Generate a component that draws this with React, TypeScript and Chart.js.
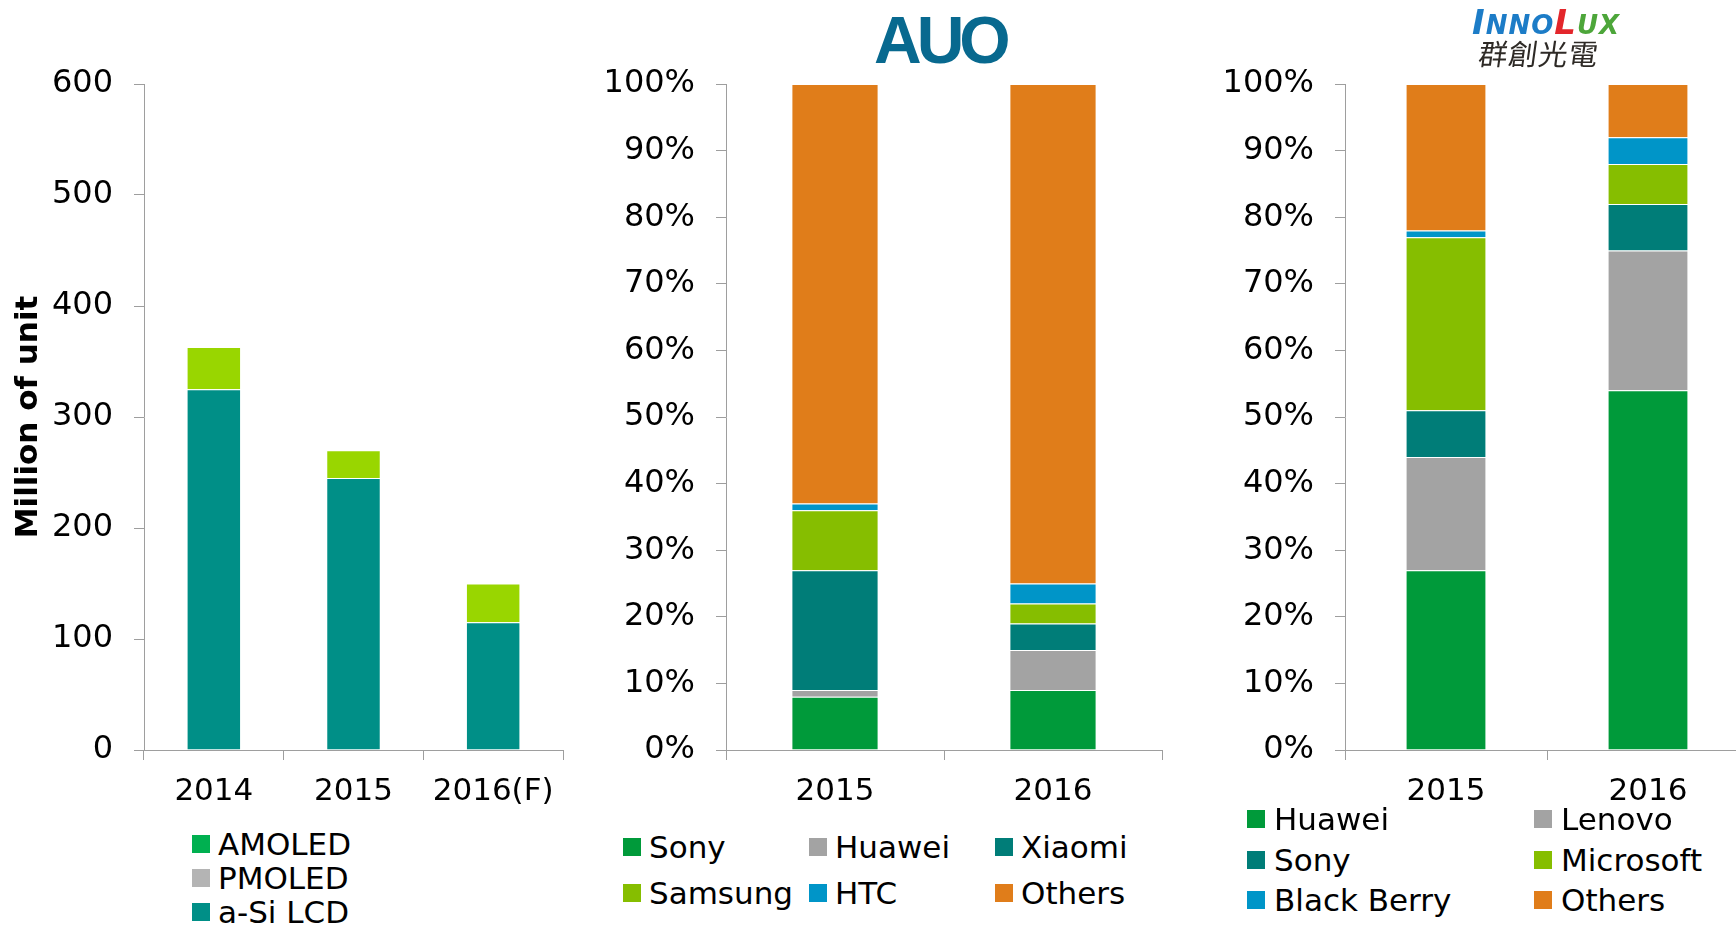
import React, { useEffect, useRef } from 'react';
import { Chart, registerables } from 'chart.js';

Chart.register(...registerables);

const FONT = "'DejaVu Sans', Verdana, sans-serif";
const AXIS = '#9E9E9E';

// ---- Panel 1: shipments (million units)
const shipYears = ['2014', '2015', '2016(F)'];
const aSiLcd = [325, 245, 115];
const pmoled = [0, 0, 0];
const amoled = [38, 25, 35];
const shipLegendNames = ['AMOLED', 'PMOLED', 'a-Si LCD'];
const shipLegendColors = ['#00B050', '#B4B4B4', '#008F87'];

// ---- Panel 2: AUO customer share (%)
const auoYears = ['2015', '2016'];
const auoSony = [8, 9];
const auoHuawei = [1, 6];
const auoXiaomi = [18, 4];
const auoSamsung = [9, 3];
const auoHtc = [1, 3];
const auoOthers = [63, 75];
const auoNames = ['Sony', 'Huawei', 'Xiaomi', 'Samsung', 'HTC', 'Others'];

// ---- Panel 3: Innolux customer share (%)
const innoYears = ['2015', '2016'];
const innoHuawei = [27, 54];
const innoLenovo = [17, 21];
const innoSony = [7, 7];
const innoMicrosoft = [26, 6];
const innoBlackBerry = [1, 4];
const innoOthers = [22, 8];
const innoNames = ['Huawei', 'Lenovo', 'Sony', 'Microsoft', 'Black Berry', 'Others'];

const C_GREEN = '#009A3A';
const C_GRAY = '#A3A3A3';
const C_TEAL = '#007D78';
const C_LIME = '#86BE00';
const C_BLUE = '#0095C8';
const C_ORANGE = '#E07D1A';
const auoColors = [C_GREEN, C_GRAY, C_TEAL, C_LIME, C_BLUE, C_ORANGE];
const innoColors = [C_GREEN, C_GRAY, C_TEAL, C_LIME, C_BLUE, C_ORANGE];

type Cfg = {
  labels: string[];
  datasets: any[];
  max: number;
  step: number;
  percent: boolean;
  yWidth: number;
  padRight: number;
  barPct: number;
  yTitle?: string;
};

function makeConfig(c: Cfg): any {
  return {
    type: 'bar',
    data: {
      labels: c.labels,
      datasets: c.datasets.map((d) => ({
        ...d,
        barPercentage: c.barPct,
        categoryPercentage: 1,
        borderWidth: 1,
        borderColor: 'rgba(255,255,255,0.45)',
      })),
    },
    options: {
      responsive: false,
      animation: false,
      layout: { padding: { top: 84, right: c.padRight, bottom: 0, left: 0 } },
      plugins: {
        legend: { display: false },
        tooltip: { enabled: false },
        title: { display: false },
      },
      scales: {
        x: {
          stacked: true,
          grid: {
            display: true,
            drawOnChartArea: false,
            drawTicks: true,
            tickLength: 10,
            color: AXIS,
            offset: true,
          },
          border: { display: true, color: AXIS, width: 1 },
          ticks: {
            color: '#000',
            font: { family: FONT, size: 31 },
            padding: 13,
            maxRotation: 0,
            autoSkip: false,
          },
          afterFit: (s: any) => {
            s.height = 60;
          },
        },
        y: {
          stacked: true,
          min: 0,
          max: c.max,
          grid: {
            display: true,
            drawOnChartArea: false,
            drawTicks: true,
            tickLength: 10,
            color: AXIS,
          },
          border: { display: true, color: AXIS, width: 1 },
          ticks: {
            stepSize: c.step,
            color: '#000',
            font: { family: FONT, size: 32 },
            padding: 21,
            callback: (v: any) => (c.percent ? v + '%' : String(v)),
          },
          title: c.yTitle
            ? {
                display: true,
                text: c.yTitle,
                color: '#000',
                font: { family: FONT, size: 31, weight: 'bold' },
                padding: { top: 10, bottom: 0 },
              }
            : { display: false },
          afterFit: (s: any) => {
            s.width = c.yWidth;
          },
        },
      },
    },
  };
}

function ChartCanvas({ left, width, cfg }: { left: number; width: number; cfg: Cfg }) {
  const ref = useRef<HTMLCanvasElement>(null);
  useEffect(() => {
    if (!ref.current) return;
    const chart = new Chart(ref.current, makeConfig(cfg));
    return () => chart.destroy();
  }, []);
  return (
    <canvas
      ref={ref}
      width={width}
      height={810}
      style={{ position: 'absolute', left, top: 0, width, height: 810 }}
    />
  );
}

function Legend({
  names,
  colors,
  colLefts,
  rowCenters,
  gap,
}: {
  names: string[];
  colors: string[];
  colLefts: number[];
  rowCenters: number[];
  gap: number;
}) {
  const cols = colLefts.length;
  return (
    <>
      {names.map((n, i) => {
        const col = i % cols;
        const row = Math.floor(i / cols);
        return (
          <div
            key={n}
            style={{
              position: 'absolute',
              left: colLefts[col],
              top: rowCenters[row] - 20,
              height: 40,
              display: 'flex',
              alignItems: 'center',
              whiteSpace: 'nowrap',
            }}
          >
            <span
              style={{
                display: 'inline-block',
                width: 18,
                height: 18,
                background: colors[i],
                marginRight: gap,
              }}
            />
            <span style={{ fontFamily: FONT, fontSize: 31, lineHeight: '40px', color: '#000' }}>{n}</span>
          </div>
        );
      })}
    </>
  );
}

export default function App() {
  const ship: Cfg = {
    labels: shipYears,
    datasets: [
      { label: 'a-Si LCD', data: aSiLcd, backgroundColor: '#008F87' },
      { label: 'PMOLED', data: pmoled, backgroundColor: '#B4B4B4' },
      { label: 'AMOLED', data: amoled, backgroundColor: '#99D600' },
    ],
    max: 600,
    step: 100,
    percent: false,
    yWidth: 144,
    padRight: 20,
    barPct: 0.39,
    yTitle: 'Million of unit',
  };
  const auoSeries = [auoSony, auoHuawei, auoXiaomi, auoSamsung, auoHtc, auoOthers];
  const auo: Cfg = {
    labels: auoYears,
    datasets: auoSeries.map((d, i) => ({ label: auoNames[i], data: d, backgroundColor: auoColors[i] })),
    max: 100,
    step: 10,
    percent: true,
    yWidth: 126,
    padRight: 20,
    barPct: 0.4,
  };
  const innoSeries = [innoHuawei, innoLenovo, innoSony, innoMicrosoft, innoBlackBerry, innoOthers];
  const inno: Cfg = {
    labels: innoYears,
    datasets: innoSeries.map((d, i) => ({ label: innoNames[i], data: d, backgroundColor: innoColors[i] })),
    max: 100,
    step: 10,
    percent: true,
    yWidth: 165,
    padRight: 10,
    barPct: 0.4,
  };

  return (
    <div
      style={{
        position: 'absolute',
        left: 0,
        top: 0,
        width: 1736,
        height: 926,
        overflow: 'hidden',
        background: '#fff',
      }}
    >
      <ChartCanvas left={0} width={583} cfg={ship} />
      <ChartCanvas left={600} width={582} cfg={auo} />
      <ChartCanvas left={1180} width={579} cfg={inno} />

      {/* AUO logo */}
      <div
        style={{
          position: 'absolute',
          left: 874,
          top: 7,
          fontFamily: "'Liberation Sans', Arial, sans-serif",
          fontWeight: 900,
          fontSize: 66,
          lineHeight: '66px',
          letterSpacing: -5,
          color: '#08698F',
        }}
      >
        AUO
      </div>

      {/* Innolux logo */}
      <div
        style={{
          position: 'absolute',
          left: 1472,
          top: 5,
          fontFamily: FONT,
          fontWeight: 'bold',
          fontStyle: 'italic',
          fontSize: 34,
          lineHeight: '34px',
          letterSpacing: 1,
          whiteSpace: 'nowrap',
        }}
      >
        <span style={{ color: '#1C7CC7' }}>I</span>
        <span style={{ color: '#1C7CC7', fontSize: 26 }}>NNO</span>
        <span style={{ color: '#E3262B' }}>L</span>
        <span style={{ color: '#4DA63A', fontSize: 26 }}>UX</span>
      </div>
      <div
        style={{
          position: 'absolute',
          left: 1479,
          top: 36,
          fontFamily: "'Noto Sans CJK TC', sans-serif",
          fontSize: 29,
          lineHeight: '33px',
          letterSpacing: 1,
          color: '#2E2A26',
          transform: 'skewX(-8deg)',
          whiteSpace: 'nowrap',
        }}
      >
        群創光電
      </div>

      <Legend
        names={shipLegendNames}
        colors={shipLegendColors}
        colLefts={[192]}
        rowCenters={[844, 878, 912]}
        gap={8}
      />
      <Legend
        names={auoNames}
        colors={auoColors}
        colLefts={[623, 809, 995]}
        rowCenters={[847, 893]}
        gap={8}
      />
      <Legend
        names={innoNames}
        colors={innoColors}
        colLefts={[1247, 1534]}
        rowCenters={[819, 860, 900]}
        gap={9}
      />
    </div>
  );
}
